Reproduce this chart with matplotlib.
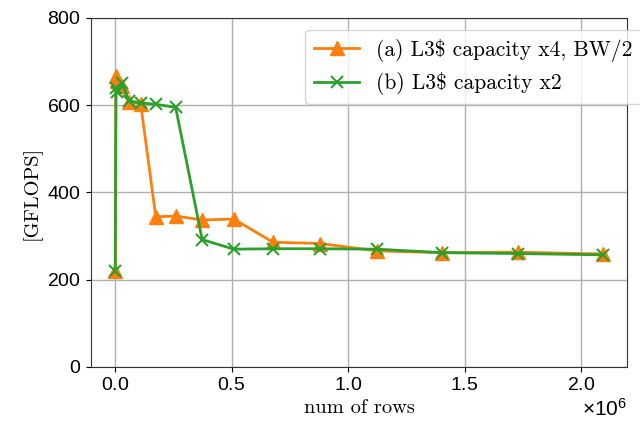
import numpy as np
import matplotlib.pyplot as plt

# num of rows (x1e6) and performance [GFLOPS]
rows = [0.001e6, 0.004e6, 0.008e6, 0.03e6, 0.06e6, 0.11e6, 0.175e6, 0.26e6,
        0.374e6, 0.51e6, 0.677e6, 0.88e6, 1.124e6, 1.403e6, 1.728e6, 2.093e6]
gflops_a = [220, 667, 655, 645, 608, 603, 344, 346,
            337, 339, 286, 283, 266, 262, 263, 259]
gflops_b = [220, 640, 630, 650, 610, 605, 602, 595,
            292, 270, 271, 271, 270, 262, 260, 257]

label_a = r"(a) L3\$ capacity x4, BW/2"
label_b = r"(b) L3\$ capacity x2"

plt.rcParams['font.family'] = ['Liberation Sans', 'DejaVu Sans']
plt.rcParams['axes.formatter.use_mathtext'] = True
plt.rcParams['mathtext.fontset'] = 'custom'
plt.rcParams['mathtext.rm'] = 'Liberation Sans'
serif = ['cmr10', 'DejaVu Serif']

fig = plt.figure(figsize=(6.4, 4.26), dpi=100)
ax = fig.add_axes([0.142, 0.1385, 0.838, 0.8195])

ax.plot(rows, gflops_a, color='tab:orange', marker='^', markersize=9.5,
        linewidth=2, label=label_a)
ax.plot(rows, gflops_b, color='tab:green', marker='x', markersize=8.5,
        markeredgewidth=1.5, linewidth=2, label=label_b)

ax.set_ylim(0, 800)
ax.set_yticks([0, 200, 400, 600, 800])
ax.set_xticks([0, 0.5e6, 1.0e6, 1.5e6, 2.0e6])
ax.grid(True, color='#b0b0b0', linewidth=1)
ax.tick_params(labelsize=14)
ax.xaxis.get_offset_text().set_fontsize(15)
for s in ax.spines.values():
    s.set_color('#333333')

ax.set_xlabel('num of rows', family=serif, fontsize=14.7)
ax.set_ylabel('[GFLOPS]', family=serif, fontsize=14.7)

leg = ax.legend(loc='upper left', bbox_to_anchor=(0.4, 0.965),
                prop={'family': serif, 'size': 15.5}, framealpha=0.8,
                handlelength=2.1, borderaxespad=0)
leg.set_clip_on(False)

fig.savefig('out.png', dpi=100)
